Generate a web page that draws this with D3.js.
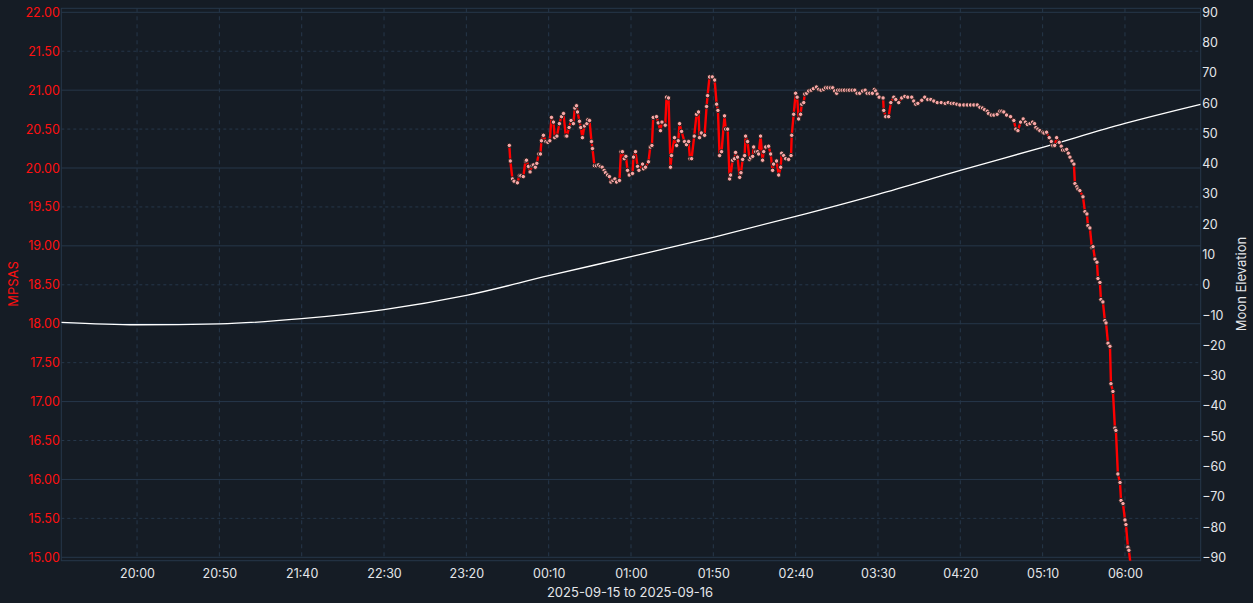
<!DOCTYPE html>
<html>
<head>
<meta charset="utf-8">
<title>MPSAS and Moon Elevation</title>
<script src="https://cdn.jsdelivr.net/npm/d3@7"></script>
<style>
    body{ margin:0; background:#151c25; }
    text{ font-family:Inter, "DejaVu Sans", sans-serif; }
</style>
</head>
<body>
<script>
// sky quality readings, minutes after 2025-09-15 20:00
var mpsasMin = [226.1,226.7,228.0,229.0,231.0,232.2,233.1,234.6,235.9,236.5,237.7,238.7,239.9,240.7,241.9,242.8,244.0,245.0,245.6,246.8,
    248.3,249.5,250.7,251.7,252.9,253.7,255.0,256.5,257.8,259.0,260.4,261.0,262.4,263.6,265.0,265.9,266.9,267.5,268.7,269.5,
    270.5,271.7,273.2,273.8,274.8,276.0,276.6,277.8,279.0,280.2,281.3,282.5,283.7,284.5,285.7,286.9,287.8,289.0,290.2,291.2,
    293.0,293.9,294.8,295.9,296.9,297.9,298.9,300.9,301.5,302.7,304.0,304.8,307.0,307.6,308.8,310.6,311.7,312.7,313.5,315.5,
    316.5,317.9,318.8,320.8,321.6,322.8,324.0,324.6,326.4,327.7,328.7,329.5,330.7,332.5,333.7,335.0,335.8,336.8,338.4,339.8,
    341.0,341.6,342.7,344.7,345.9,346.5,347.7,349.4,350.8,352.0,352.8,353.8,355.0,356.8,357.5,358.7,359.9,360.5,361.7,362.9,
    363.5,364.7,366.0,366.8,367.8,369.0,369.6,370.8,372.0,372.6,373.9,374.5,375.7,376.9,377.5,378.7,379.9,380.6,381.8,383.6,
    384.8,386.0,386.6,388.4,389.7,390.9,391.5,392.7,393.9,395.7,397.2,397.6,398.8,400.0,400.9,401.8,403.0,403.7,404.9,405.5,
    406.7,407.9,409.4,410.8,412.6,414.0,415.4,417.0,418.1,419.5,421.1,422.5,423.7,424.9,425.5,426.8,428.2,429.6,431.3,432.6,
    434.3,435.9,437.3,438.9,440.6,442.2,443.4,445.0,446.6,447.8,448.6,449.5,450.7,453.1,453.5,454.7,456.5,457.8,459.6,460.8,
    462.6,464.4,466.3,468.1,470.5,471.7,472.9,474.2,476.6,478.4,480.2,482.1,483.9,486.0,488.4,490.8,492.6,494.5,496.1,497.9,
    499.7,502.1,504.2,506.2,508.2,510.3,511.9,513.5,514.7,516.4,517.1,518.8,520.4,522.4,524.0,525.2,526.4,528.1,530.5,532.5,
    533.7,535.0,536.6,538.2,539.5,540.7,542.3,543.9,545.1,545.9,547.1,548.3,550.0,550.8,552.4,554.0,555.3,556.1,557.3,558.5,
    560.1,561.3,562.1,563.4,564.6,565.6,566.6,567.8,569.0,569.6,570.8,571.4,572.6,574.5,575.7,576.9,577.5,578.7,579.9,580.6,
    581.8,583.0,583.6,584.8,585.4,586.6,587.8,588.5,589.7,590.9,591.5,592.7,593.9,594.5,595.7,597.0,597.6,598.8,600.0,600.6,
    601.8,602.4,603.8];
var mpsasVal = [20.29,20.09,19.86,19.83,19.81,19.90,19.90,19.89,20.09,20.10,20.02,19.95,20.03,20.04,20.01,20.06,20.18,20.18,20.35,20.42,
    20.34,20.33,20.35,20.65,20.59,20.39,20.41,20.57,20.66,20.70,20.41,20.41,20.52,20.61,20.57,20.77,20.80,20.72,20.60,20.52,
    20.39,20.54,20.57,20.62,20.61,20.34,20.25,20.03,20.03,20.04,20.02,20.01,19.97,19.94,19.91,19.89,19.82,19.84,19.86,19.82,
    19.84,20.21,20.21,20.12,20.15,19.97,19.91,19.93,20.14,20.21,20.02,19.97,20.05,19.99,20.01,20.08,20.27,20.29,20.65,20.66,
    20.58,20.48,20.59,20.55,20.91,20.90,20.01,20.16,20.39,20.29,20.35,20.57,20.47,20.34,20.30,20.34,20.12,20.12,20.41,20.69,
    20.72,20.39,20.45,20.42,20.79,20.93,21.17,21.17,21.13,20.82,20.74,20.16,20.21,20.67,20.50,20.50,19.86,19.91,20.10,20.12,
    20.20,20.14,19.88,19.94,20.11,20.16,20.41,20.34,20.11,20.13,20.15,20.27,20.21,20.21,20.18,20.41,20.10,20.21,20.27,20.28,
    20.18,19.97,20.05,20.09,19.91,20.01,20.19,20.16,20.12,20.11,20.16,20.42,20.69,20.96,20.91,20.63,20.69,20.82,20.84,20.95,
    20.96,20.99,21.00,21.02,21.04,21.01,21.00,21.01,21.03,21.03,21.03,21.03,20.99,20.96,21.00,21.00,21.00,21.00,21.00,21.00,
    21.00,21.00,20.96,20.96,20.99,21.00,20.96,20.96,20.96,21.01,20.99,20.95,20.91,20.90,20.74,20.66,20.66,20.84,20.91,20.88,
    20.84,20.90,20.92,20.91,20.91,20.86,20.82,20.83,20.87,20.91,20.88,20.88,20.86,20.84,20.84,20.83,20.84,20.83,20.83,20.82,
    20.81,20.81,20.81,20.81,20.81,20.81,20.78,20.77,20.75,20.73,20.70,20.68,20.68,20.69,20.73,20.73,20.72,20.68,20.66,20.61,
    20.50,20.48,20.59,20.63,20.59,20.56,20.57,20.59,20.57,20.52,20.50,20.48,20.46,20.45,20.46,20.39,20.34,20.29,20.29,20.39,
    20.33,20.28,20.23,20.23,20.24,20.19,20.14,20.09,20.05,19.80,19.76,19.73,19.71,19.63,19.44,19.41,19.26,19.23,18.98,18.99,
    18.83,18.79,18.58,18.53,18.31,18.28,18.04,18.01,17.75,17.71,17.23,17.13,16.66,16.63,16.07,15.96,15.73,15.69,15.48,15.42,
    15.13,15.09,14.84];

// moon elevation in degrees
var moonTimes = ["19:14","20:00","20:50","21:40","22:30","23:20","00:10","01:00","01:50","02:40","03:30","04:20","05:10","06:00","06:46"];
var moonElev  = [-12.4,-13.2,-12.9,-11.2,-8.2,-3.5,3.0,9.3,15.7,22.6,29.9,37.8,45.4,53.3,59.6];

var leftTicks  = [15,15.5,16,16.5,17,17.5,18,18.5,19,19.5,20,20.5,21,21.5,22];
var rightTicks = [-90,-80,-70,-60,-50,-40,-30,-20,-10,0,10,20,30,40,50,60,70,80,90];
var timeTicks  = ["20:00","20:50","21:40","22:30","23:20","00:10","01:00","01:50","02:40","03:30","04:20","05:10","06:00"];

var width = 1253, height = 603;
var box = {left:61.3, right:1200.7, top:8.3, bottom:560.7};
var gridCol = "#26374a";

function toDate(hm){
    var p = hm.split(":"), h = +p[0];
    return new Date(2025, 8, h < 12 ? 16 : 15, h, +p[1]);
}
function fromMin(m){
    return new Date(new Date(2025, 8, 15, 20, 0).getTime() + m*60000);
}

var svg = d3.select("body").append("svg")
    .attr("width", width)
    .attr("height", height);

svg.append("rect").attr("width", width).attr("height", height).attr("fill", "#151c25");

var x = d3.scaleTime().domain([toDate("19:14"), toDate("06:46")]).range([box.left, box.right]);
var yL = d3.scaleLinear().domain([15, 22]).range([557.3, 12.3]);
var yR = d3.scaleLinear().domain([-90, 90]).range([557.3, 12.3]);

svg.append("clipPath").attr("id", "plot")
  .append("rect")
    .attr("x", box.left).attr("y", box.top)
    .attr("width", box.right - box.left).attr("height", box.bottom - box.top);

// grid
svg.append("g").selectAll("line").data(leftTicks).join("line")
    .attr("x1", box.left).attr("x2", box.right)
    .attr("y1", d => yL(d)).attr("y2", d => yL(d))
    .attr("stroke", gridCol).attr("stroke-width", 1)
    .attr("stroke-dasharray", d => d % 1 ? "3,3" : null);

svg.append("g").selectAll("line").data(timeTicks).join("line")
    .attr("x1", d => x(toDate(d))).attr("x2", d => x(toDate(d)))
    .attr("y1", box.top).attr("y2", box.bottom)
    .attr("stroke", gridCol).attr("stroke-width", 1)
    .attr("stroke-dasharray", "4,4");

svg.append("rect")
    .attr("x", box.left).attr("y", box.top)
    .attr("width", box.right - box.left).attr("height", box.bottom - box.top)
    .attr("fill", "none").attr("stroke", gridCol).attr("stroke-width", 1);

// axes
var axL = svg.append("g").attr("transform", "translate(" + box.left + ",0)")
    .call(d3.axisLeft(yL).tickValues(leftTicks).tickFormat(d3.format(".2f")).tickSize(0).tickPadding(1.5));
var axR = svg.append("g").attr("transform", "translate(" + box.right + ",0)")
    .call(d3.axisRight(yR).tickValues(rightTicks).tickSize(0).tickPadding(1.5));
var axB = svg.append("g").attr("transform", "translate(0," + box.bottom + ")")
    .call(d3.axisBottom(x).tickValues(timeTicks.map(toDate)).tickFormat(d3.timeFormat("%H:%M")).tickSize(0).tickPadding(8.5));

[axL, axR, axB].forEach(function(a){
    a.select(".domain").remove();
    a.selectAll("text").attr("font-family", "Inter, 'DejaVu Sans', sans-serif").attr("font-size", 12.5);
});
axL.selectAll("text").attr("fill", "#ff1010");
axR.selectAll("text").attr("fill", "#e4e6ea");
axB.selectAll("text").attr("fill", "#e4e6ea");

// titles
svg.append("text").attr("transform", "translate(13,284) rotate(-90)")
    .attr("text-anchor", "middle").attr("dy", "0.35em")
    .attr("font-size", 13).attr("fill", "#ff1010").text("MPSAS");
svg.append("text").attr("transform", "translate(1241,284) rotate(-90)")
    .attr("text-anchor", "middle").attr("dy", "0.35em")
    .attr("font-size", 13).attr("fill", "#e4e6ea").text("Moon Elevation");
svg.append("text").attr("x", 630).attr("y", 592).attr("dy", "0.35em")
    .attr("text-anchor", "middle")
    .attr("font-size", 13).attr("fill", "#e4e6ea").text("2025-09-15 to 2025-09-16");

var plot = svg.append("g").attr("clip-path", "url(#plot)");

// moon elevation
plot.append("path")
    .datum(moonTimes.map((t, i) => [toDate(t), moonElev[i]]))
    .attr("fill", "none").attr("stroke", "#ffffff").attr("stroke-width", 1.3)
    .attr("d", d3.line().x(d => x(d[0])).y(d => yR(d[1])).curve(d3.curveMonotoneX));

// mpsas
var pts = mpsasMin.map((m, i) => [fromMin(m), mpsasVal[i]]);
plot.append("path")
    .datum(pts)
    .attr("fill", "none").attr("stroke", "#ff0000").attr("stroke-width", 2.4)
    .attr("stroke-linejoin", "round")
    .attr("d", d3.line().x(d => x(d[0])).y(d => yL(d[1])));

plot.append("g").selectAll("circle").data(pts).join("circle")
    .attr("cx", d => x(d[0])).attr("cy", d => yL(d[1]))
    .attr("r", 2.2)
    .attr("fill", "#f7a6a6").attr("stroke", "#1a1a1a").attr("stroke-width", 0.9);
</script>
</body>
</html>
